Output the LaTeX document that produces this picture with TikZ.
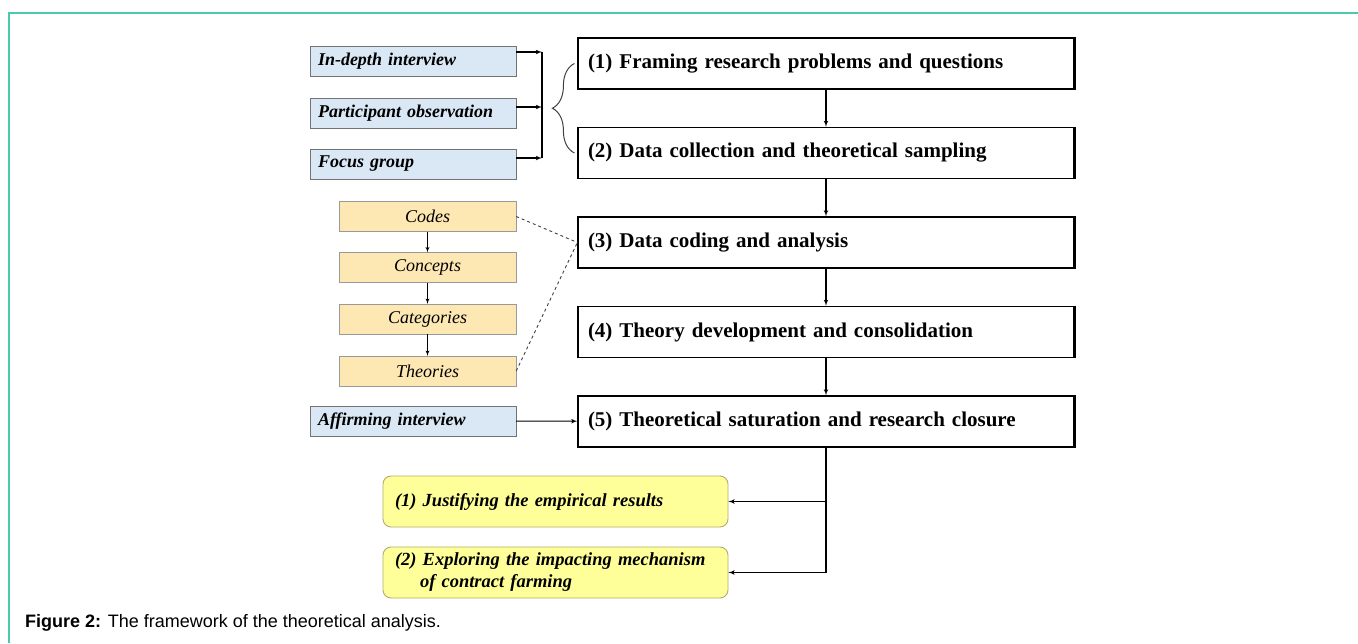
\documentclass[tikz,border=0pt]{standalone}
\usepackage{fontspec}
\setmainfont{Liberation Serif}
\setsansfont{Liberation Sans}
\usetikzlibrary{arrows, decorations.pathreplacing}

\definecolor{framegreen}{RGB}{72,201,176}
\definecolor{sourceblue}{RGB}{218,232,246}
\definecolor{codeorange}{RGB}{253,231,178}
\definecolor{resultyellow}{RGB}{255,255,153}
\definecolor{resultline}{RGB}{180,172,110}

\begin{document}
\begin{tikzpicture}[x=1pt, y=-1pt]

\tikzset{stage/.style = {draw, line width=1.2pt, fill=white, minimum height=51pt, text width=476pt, inner xsep=10pt, align=left, font=\bfseries\fontsize{21}{25}\selectfont}}
\tikzset{source/.style = {draw=black!55, fill=sourceblue, minimum height=30pt, text width=190pt, inner xsep=8pt, align=left, font=\bfseries\itshape\fontsize{18}{21}\selectfont}}
\tikzset{code/.style = {draw=black!40, fill=codeorange, minimum height=30pt, minimum width=177pt, font=\itshape\fontsize{18}{21}\selectfont}}
\tikzset{result/.style = {draw=resultline, line width=0.9pt, fill=resultyellow, rounded corners=8pt, minimum height=51pt, text width=321pt, inner xsep=12pt, align=left, font=\bfseries\itshape\fontsize{18.5}{22}\selectfont}}
\tikzset{edge/.style = {->, > = latex', line width=1.1pt}}

\useasboundingbox (0,0) rectangle (1358,643);

% frame
\draw[framegreen, line width=1.5pt] (9,643) -- (9,13) -- (1358,13);

% stages
\node[stage] (s1) at (826,63.5) {(1) Framing research problems and questions};
\node[stage] (s2) at (826,153) {(2) Data collection and theoretical sampling};
\node[stage] (s3) at (826,242.5) {(3) Data coding and analysis};
\node[stage] (s4) at (826,332) {(4) Theory development and consolidation};
\node[stage] (s5) at (826,421.5) {(5) Theoretical saturation and research closure};
\foreach \s in {s1,s2,s3,s4,s5}
  \draw[line width=2.2pt] (\s.north east) -- (\s.south east);

% sources
\node[source] (in1) at (413,61.5) {In-depth interview};
\node[source] (in2) at (413,113) {Participant observation};
\node[source] (in3) at (413,164) {Focus group};
\node[source] (affirm) at (413,421) {Affirming interview};

% coding
\node[code] (codes) at (427.5,216.5) {Codes};
\node[code] (concepts) at (427.5,267.5) {Concepts};
\node[code] (categories) at (427.5,319) {Categories};
\node[code] (theories) at (427.5,371) {Theories};

% results
\node[result] (r1) at (555.5,501.5) {(1) Justifying the empirical results};
\node[result] (r2) at (555.5,572.5) {(2) Exploring the impacting mechanism\\\hspace*{25pt}of contract farming};

% caption
\node[anchor=west, inner sep=0pt, font=\sffamily\fontsize{18}{20}\selectfont] (caption) at (25,623) {\textbf{Figure 2:} The framework of the theoretical analysis.};

%edges
\coordinate (j1) at (542,52);
\coordinate (j2) at (542,107);
\coordinate (j3) at (542,158);

\draw[edge] (in1.east |- j1) -- (j1);
\draw[edge] (in2.east |- j2) -- (j2);
\draw[edge] (in3.east |- j3) -- (j3);
\draw[line width=1.1pt] (j1) -- (j3);
\draw[black!75, line width=1pt, decorate, decoration={brace, amplitude=22pt}] ([xshift=-3pt]s2.west) -- ([xshift=-3pt]s1.west);

\draw[edge] (s1) -- (s2);
\draw[edge] (s2) -- (s3);
\draw[edge] (s3) -- (s4);
\draw[edge] (s4) -- (s5);

\draw[edge, line width=0.8pt] (codes) -- (concepts);
\draw[edge, line width=0.8pt] (concepts) -- (categories);
\draw[edge, line width=0.8pt] (categories) -- (theories);
\draw[dashed, black!75, line width=0.9pt] (codes.east) -- (s3.west);
\draw[dashed, black!75, line width=0.9pt] (theories.east) -- (s3.west);

\draw[edge] (affirm) -- (s5);

\draw[line width=1.1pt] (s5.south) -- (s5.south |- r2.east);
\draw[edge] (s5.south |- r2.east) -- (r2.east);
\draw[edge] (s5.south |- r1.east) -- (r1.east);

\end{tikzpicture}
\end{document}
